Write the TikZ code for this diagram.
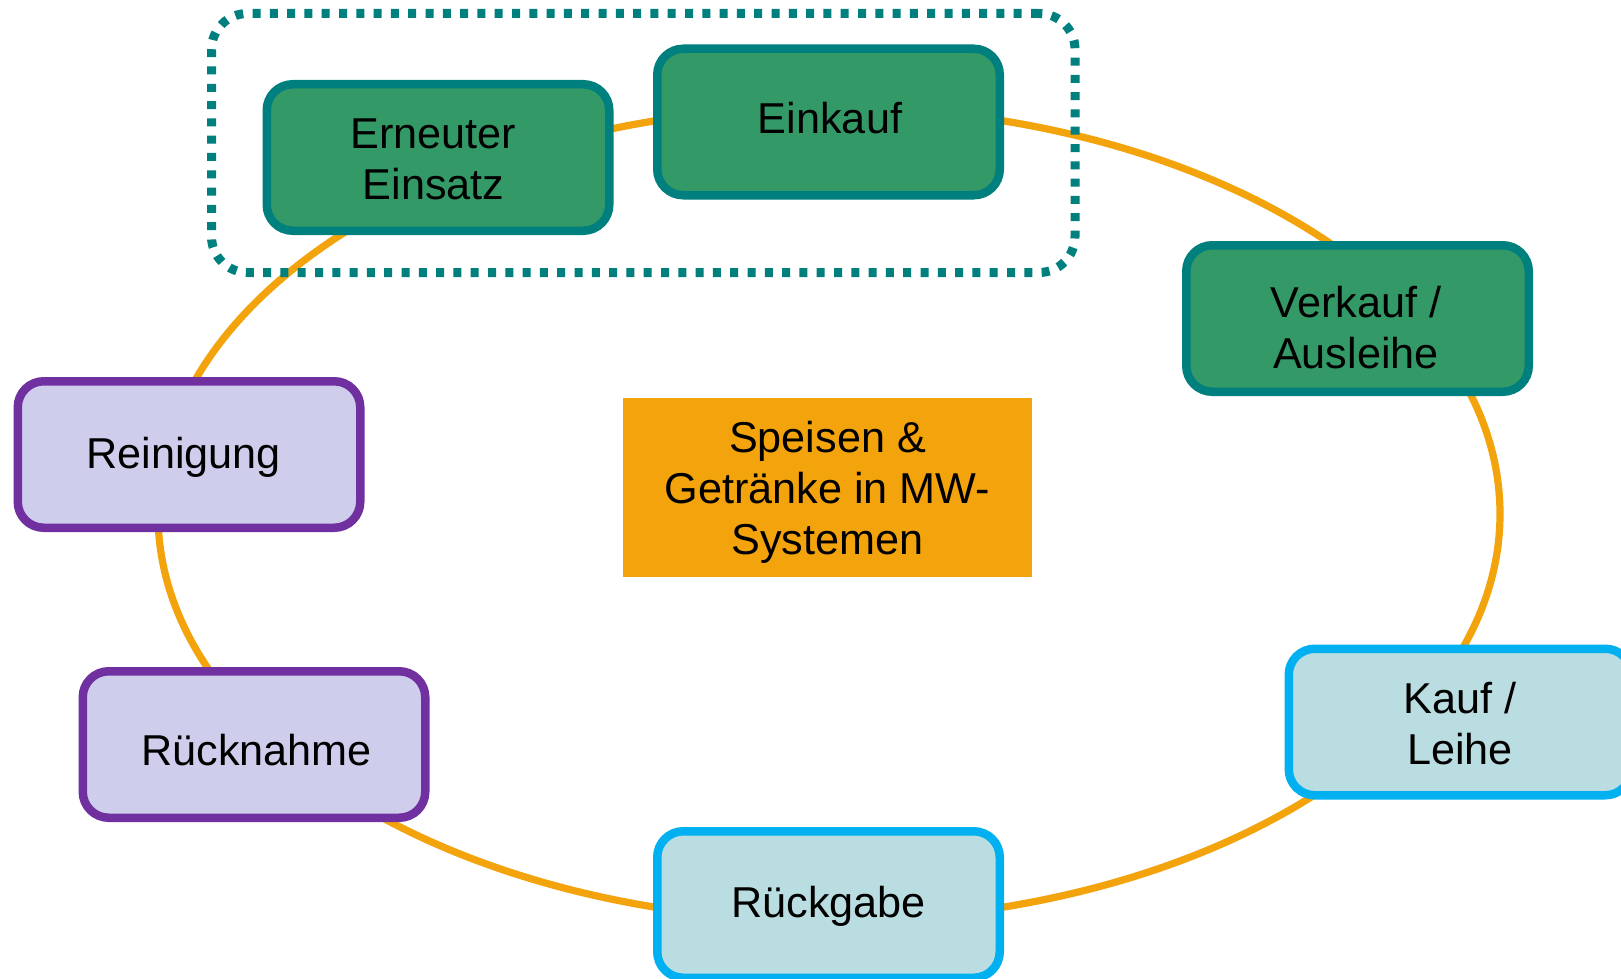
\documentclass[tikz,border=0pt]{standalone}
\usepackage{fontspec}
\setmainfont{Liberation Sans}
\definecolor{boxgreen}{HTML}{339966}
\definecolor{tealb}{HTML}{007F7F}
\definecolor{lavfill}{HTML}{CECEEC}
\definecolor{purpleb}{HTML}{7030A0}
\definecolor{bluefill}{HTML}{B9DDE1}
\definecolor{cyanb}{HTML}{00B0F0}
\definecolor{orangec}{HTML}{F3A30B}
\begin{document}
\begin{tikzpicture}[x=0.5pt,y=-0.5pt,
  stage/.style={rounded corners=13pt, line width=4.25pt, minimum width=171.25pt,
    minimum height=73.25pt, inner sep=0pt},
  greenbox/.style={stage, fill=boxgreen, draw=tealb},
  lavbox/.style={stage, fill=lavfill, draw=purpleb},
  bluebox/.style={stage, fill=bluefill, draw=cyanb},
  lbl/.style={inner sep=0pt, align=center, font=\fontsize{21.6pt}{25.6pt}\selectfont},
  centerbox/.style={fill=orangec, minimum width=204.5pt, minimum height=89.5pt, inner sep=0pt},
  dotgroup/.style={draw=tealb, line width=4.5pt, dash pattern=on 4pt off 4.65pt,
    rounded corners=18pt, minimum width=431.75pt, minimum height=129.5pt, inner sep=0pt},
  cycleline/.style={draw=orangec, line width=3.6pt}
]
\useasboundingbox (0,0) rectangle (1621,979);
\fill[white] (0,0) rectangle (1621,979);

% cycle ellipse
\coordinate (c) at (829,514);
\draw[cycleline] (c) ellipse [x radius=335.5pt, y radius=203.5pt];

% dotted group
\node[dotgroup] (grp) at (643.25,143) {};

% stages
\node[greenbox] (erneut) at (438,157.5) {};
\node[greenbox] (einkauf) at (828.5,122) {};
\node[greenbox] (verkauf) at (1357.5,318.5) {};
\node[bluebox] (kauf) at (1460,722) {};
\node[bluebox] (rueckgabe) at (828.5,904.5) {};
\node[lavbox] (ruecknahme) at (254,744.5) {};
\node[lavbox] (reinigung) at (189,454.5) {};
\node[centerbox] (center) at (827.5,487.5) {};

% labels
\node[lbl, xshift=-2.25pt, yshift=-0.8pt] (erneut-t) at (erneut) {Erneuter\\Einsatz};
\node[lbl, xshift=0.75pt, yshift=1.9pt] (einkauf-t) at (einkauf) {Einkauf};
\node[lbl, xshift=-0.75pt, yshift=-4.4pt] (verkauf-t) at (verkauf) {Verkauf /\\Ausleihe};
\node[lbl, yshift=-0.7pt] (kauf-t) at (kauf) {Kauf /\\Leihe};
\node[lbl, yshift=-0.7pt] (rueckgabe-t) at (rueckgabe) {Rückgabe};
\node[lbl, xshift=1.25pt, yshift=-2.6pt] (ruecknahme-t) at (ruecknahme) {Rücknahme};
\node[lbl, xshift=-2.75pt, yshift=-1.2pt] (reinigung-t) at (reinigung) {Reinigung};
\node[lbl, yshift=-2.3pt] (center-t) at (center) {Speisen \&\\Getränke in MW-\\Systemen};
\end{tikzpicture}
\end{document}
